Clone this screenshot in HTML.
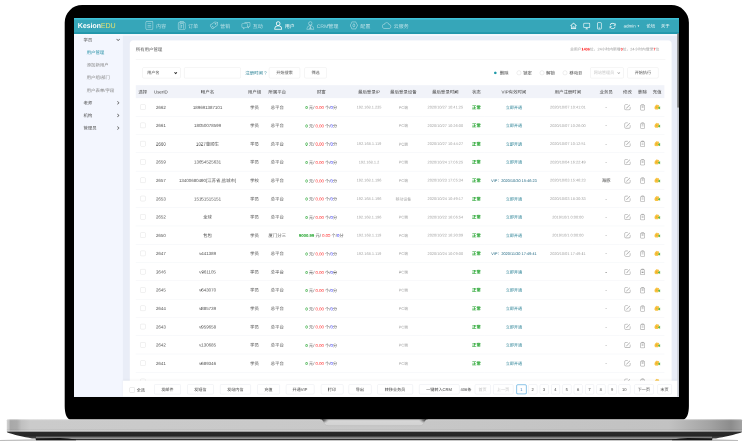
<!DOCTYPE html>
<html lang="zh-CN">
<head>
<meta charset="utf-8">
<title>KesionEDU 用户管理</title>
<style>
html,body{margin:0;padding:0;background:#fff;}
body{width:756px;height:443px;overflow:hidden;position:relative;font-family:"Liberation Sans","Noto Sans CJK SC",sans-serif;}
#laptop{position:absolute;left:0;top:0;width:756px;height:443px;}
#screen{position:absolute;left:73.9px;top:18.2px;width:605.5px;height:378.4px;overflow:hidden;background:#e9edf7;}
#wrap{position:absolute;left:0;top:0;width:1211px;height:756.8px;transform:scale(0.5);transform-origin:0 0;will-change:transform;overflow:hidden;}
#app{text-rendering:geometricPrecision;position:absolute;left:0;top:0;width:1920px;height:1200px;transform:scale(0.63072);transform-origin:0 0;background:#e9edf7;color:#444;font-size:14px;overflow:hidden;}
#hd{position:absolute;left:0;top:0;width:1920px;height:51px;background:#36a6b9;border-top:5.5px solid #3fc2d9;border-bottom:6px solid #2297ab;box-sizing:border-box;}
#logo{position:absolute;left:12px;top:6px;font-size:22.5px;font-weight:bold;color:#fff;letter-spacing:-0.3px;line-height:28px;}
#logo i{font-style:normal;color:#e9e36f;font-weight:normal;}
#nav{position:absolute;left:208.5px;top:-2.5px;height:42px;display:flex;align-items:center;}
#nav .it{display:flex;align-items:center;padding:0 17.8px;color:rgba(255,255,255,.66);font-size:16px;height:42px;}
#nav .it svg{width:27px;height:29px;margin-right:7px;stroke:rgba(255,255,255,.6);fill:none;stroke-width:1.9;}
#nav .it.on{color:#fff;}
#nav .it.on svg{stroke:#fff;stroke-width:2.6;}
#hr{position:absolute;right:0;top:-1px;height:42px;}
#hr svg{position:absolute;top:9px;width:24px;height:24px;stroke:#fff;fill:none;stroke-width:2;}
#hr span{position:absolute;top:12px;color:#fff;font-size:14px;line-height:18px;white-space:nowrap;}
#side{position:absolute;left:0;top:51px;width:155px;height:1149px;background:#f3f6fe;box-sizing:border-box;}
#side div{height:40px;line-height:40px;padding-left:30px;font-size:14px;color:#555;position:relative;margin-top:0;}
#side div.sub{padding-left:40px;color:#888;}
#side div.sub.on{color:#2490a6;}
#side div svg{position:absolute;right:8px;top:13px;width:14px;height:14px;stroke:#555;fill:none;stroke-width:2;}
#side{padding-top:0;}
#side .first{margin-top:-2px;}
#card{position:absolute;left:177px;top:71px;width:1718px;height:1160px;background:#fff;border-radius:10px;}
#title{position:absolute;left:19px;top:17px;font-size:14px;color:#555;line-height:22px;}
#stat{position:absolute;right:39px;top:17px;font-size:12px;color:#999;line-height:22px;}
#stat b{color:#f22;}
#hline{position:absolute;left:19px;right:20px;top:61px;height:1px;background:#e8e8e8;}
.box{position:absolute;top:86px;height:34px;box-sizing:border-box;border:1px solid #e2e2e2;border-radius:4px;background:#fff;font-size:13px;line-height:32px;color:#555;text-align:center;white-space:nowrap;}
.sel{text-align:left;padding-left:14px;}
.sel svg{position:absolute;right:9px;top:11px;width:11px;height:11px;stroke:#222;fill:none;stroke-width:2.6;}
.lbl{position:absolute;top:86px;height:34px;line-height:34px;font-size:14px;color:#444;white-space:nowrap;}
.rad{position:absolute;top:96px;width:14px;height:14px;box-sizing:border-box;border:1px solid #ccc;border-radius:50%;background:#fff;}
.rad.on{border:none;background:#1e9aa8;width:8px;height:8px;top:99px;}
table{position:absolute;left:19px;top:142px;width:1676px;border-collapse:collapse;table-layout:fixed;}
th{height:41px;background:transparent;font-weight:normal;font-size:14px;color:#444;padding:0;text-align:center;white-space:nowrap;}
td{height:57px;border-bottom:1px solid #ebeef4;padding:0;text-align:center;font-size:14px;color:#555;white-space:nowrap;overflow:visible;}
td.s{font-size:12.3px;color:#a4a4a4;}
td.m{font-size:13.5px;}
.g{color:#18a024;}.r{color:#f22;}.b{color:#22f;}
.ok{color:#18a024;font-size:14px;}
.lk{color:#2a8296;font-size:13px;}
.vipd{color:#1d6680;font-size:12.3px;}
.cb{display:inline-block;width:15px;height:15px;border:1px solid #d4d4d4;border-radius:4px;vertical-align:middle;background:#fff;}
.ic{width:24px;height:24px;vertical-align:middle;}
#thbg{position:absolute;left:19px;top:142px;width:1676px;height:41px;background:#f1f3f9;}
#ft{position:absolute;left:155px;top:1150px;width:1759px;height:50px;background:#fff;box-shadow:0 -2px 6px rgba(0,0,0,.05);}
#ft .btn{position:absolute;top:12px;height:31px;box-sizing:border-box;border:1px solid #dde1e8;border-radius:4px;font-size:13px;line-height:29px;color:#444;text-align:center;white-space:nowrap;background:#fff;}
#ft .btn.dis{color:#c4c4c4;}
#ft .btn.cur{border:2px solid #49a3dc;color:#3a7fc0;line-height:27px;}
#ft .t{position:absolute;top:12px;height:31px;line-height:31px;font-size:13px;color:#444;white-space:nowrap;}
#wl{position:absolute;left:0;top:51px;width:1920px;height:4.5px;background:#f9fbff;}
#sb{position:absolute;left:1913px;top:49px;width:7px;height:1151px;background:#c9ccd4;}
#sb i{position:absolute;left:0;top:0;width:7px;height:235px;background:#7b7b7b;}
</style>
</head>
<body>
<svg id="laptop" viewBox="0 0 756 443">
<defs>
<linearGradient id="bh" x1="0" x2="1" y1="0" y2="0">
<stop offset="0" stop-color="#d0d0d0"/><stop offset="0.0025" stop-color="#c6c6c6"/><stop offset="0.005" stop-color="#a8a8a8"/><stop offset="0.014" stop-color="#acacac"/><stop offset="0.02" stop-color="#c0c0c0"/><stop offset="0.032" stop-color="#cbcbcb"/><stop offset="0.5" stop-color="#c8c8c8"/><stop offset="0.9" stop-color="#c2c2c2"/><stop offset="0.955" stop-color="#a4a4a4"/><stop offset="0.985" stop-color="#8c8c8c"/><stop offset="1" stop-color="#a2a2a2"/>
</linearGradient>
<linearGradient id="bv" x1="0" x2="0" y1="0" y2="1">
<stop offset="0" stop-color="#fff" stop-opacity=".45"/><stop offset="0.12" stop-color="#fff" stop-opacity="0"/><stop offset="0.8" stop-color="#000" stop-opacity="0"/><stop offset="0.93" stop-color="#fff" stop-opacity=".25"/><stop offset="1" stop-color="#fff" stop-opacity=".1"/>
</linearGradient>
<linearGradient id="uv" gradientUnits="userSpaceOnUse" x1="0" x2="0" y1="431" y2="438.5">
<stop offset="0" stop-color="#8a8a8a"/><stop offset="0.16" stop-color="#2a2a2a"/><stop offset="0.6" stop-color="#262626"/><stop offset="1" stop-color="#4a4a4a"/>
</linearGradient>
<linearGradient id="uf" gradientUnits="userSpaceOnUse" x1="0" x2="0" y1="435.8" y2="440.6">
<stop offset="0" stop-color="#262626"/><stop offset="0.5" stop-color="#9c9c9c"/><stop offset="0.66" stop-color="#8a8a8a"/><stop offset="0.74" stop-color="#333"/><stop offset="0.9" stop-color="#2c2c2c"/><stop offset="1" stop-color="#aaa"/>
</linearGradient>
<radialGradient id="ns2" cx="0.5" cy="0.5" r="0.5"><stop offset="0" stop-color="#333"/><stop offset="0.45" stop-color="#666" stop-opacity=".75"/><stop offset="1" stop-color="#bbb" stop-opacity="0"/></radialGradient>
<linearGradient id="nv" x1="0" x2="0" y1="0" y2="1">
<stop offset="0" stop-color="#c4c4c4"/><stop offset="0.3" stop-color="#d6d6d6"/><stop offset="1" stop-color="#d2d2d2"/>
</linearGradient>
</defs>
<!-- ground shadow -->
<path d="M0 440 L36 439.300 L36 440.800 L0 441 Z" fill="#aaa" opacity=".8"/>
<path d="M712 439.300 L738 440.100 L738 440.900 L712 441 Z" fill="#aaa" opacity=".8"/>
<!-- underside -->
<path d="M6.800 431 L742 431 L741.500 432.500 C735 434.500 724 437 716 438.400 L712 438.500 L36 438.500 L32 438.400 C24 437 13 434.500 7.300 432.500 Z" fill="url(#uv)"/>
<path d="M36 435.800 L712 435.800 L712 440.600 L36 440.600 Z" fill="url(#uf)"/>
<path d="M35.500 438.300 L60 438.100 C66 438.200 70 439.200 76 439.400 L76 440.300 L36 440.300 Z" fill="#161616"/>
<path d="M712.500 438.300 L688 438.100 C682 438.200 678 439.200 672 439.400 L672 440.300 L712 440.300 Z" fill="#161616"/>
<!-- base -->
<path d="M6.800 420.200 Q6.800 419.200 8 419.200 L740.800 419.200 Q742 419.200 742 420.200 L742 431.600 L6.800 431.600 Z" fill="url(#bh)"/>
<path d="M6.800 420.200 Q6.800 419.200 8 419.200 L740.800 419.200 Q742 419.200 742 420.200 L742 431.600 L6.800 431.600 Z" fill="url(#bv)"/>
<!-- notch -->
<clipPath id="nc"><path d="M320 419.200 C324.500 419.200 323 425.700 328 425.700 L420 425.700 C425 425.700 423.500 419.200 428 419.200 Z"/></clipPath>
<path d="M320 419.200 C324.500 419.200 323 425.700 328 425.700 L420 425.700 C425 425.700 423.500 419.200 428 419.200 Z" fill="url(#nv)" stroke="#b4b4b4" stroke-width=".5"/>
<g clip-path="url(#nc)"><ellipse cx="322.500" cy="419.500" rx="7" ry="4.500" fill="url(#ns2)"/><ellipse cx="425.500" cy="419.500" rx="7" ry="4.500" fill="url(#ns2)"/></g>
<!-- bezel -->
<path d="M82.200 5 L671.400 5 A17.500 17.500 0 0 1 688.900 22.500 L688.900 406 C688.900 413 687 419.200 683.600 419.200 L70 419.200 C66.600 419.200 64.700 413 64.700 406 L64.700 22.500 A17.500 17.500 0 0 1 82.200 5 Z" fill="#000"/>
</svg>
<div id="screen"><div id="wrap"><div id="app">
 <div id="hd">
  <div id="logo">Kesion<i>EDU</i></div>
  <div id="nav">
   <div class="it"><svg viewBox="0 0 28 30"><rect x="2" y="1.500" width="23" height="27" rx="4"/><path d="M7.500 9.500H19.500M7.500 15H19.500M7.500 20.500H19.500"/></svg>内容</div>
   <div class="it"><svg viewBox="0 0 28 30"><rect x="2.500" y="5" width="23" height="23.500" rx="4"/><path d="M8.500 5V2H19.500V5M8.500 9H19.500V26M8.500 9V26M12 16H16M14 13V24"/></svg>订单</div>
   <div class="it"><svg viewBox="0 0 28 30"><path d="M15 3H25V13L13 25.500A2.200 2.200 0 0 1 9.800 25.500L2.800 18.500A2.200 2.200 0 0 1 2.800 15.300Z" transform="rotate(10 14 15)"/><circle cx="19.500" cy="9.500" r="1.800"/><path d="M8 16.500L13 21.500"/></svg>营销</div>
   <div class="it"><svg viewBox="0 0 30 30" style="width:28.5px"><path d="M10 5H26A2.500 2.500 0 0 1 28.500 7.500V16.500A2.500 2.500 0 0 1 26 19H24V23L20 19.500"/><path d="M4 9H17.500A2.500 2.500 0 0 1 20 11.500V19.500A2.500 2.500 0 0 1 17.500 22H11.500L7 26.500V22H4A2.500 2.500 0 0 1 1.500 19.500V11.500A2.500 2.500 0 0 1 4 9Z"/></svg>互动</div>
   <div class="it on"><svg viewBox="0 0 28 30"><circle cx="14" cy="9" r="6"/><path d="M2.500 27.500C2.500 19.500 8 16.500 14 16.500S25.500 19.500 25.500 27.500Z"/></svg>用户</div>
   <div class="it"><svg viewBox="0 0 28 30"><circle cx="14" cy="8.500" r="5.500"/><path d="M2.500 27.500C2.500 19.500 8 16 14 16S25.500 19.500 25.500 27.500ZM14 16V27.500M10 27.500L14 20L18 27.500"/></svg>CRM管理</div>
   <div class="it"><svg viewBox="0 0 28 30"><path d="M8 3.500H20L26 15L20 26.500H8L2 15Z"/><path d="M14 9.500C16.500 11.500 17.500 13 17.500 15S16.500 18.500 14 20.500C11.500 18.500 10.500 17 10.500 15S11.500 11.500 14 9.500Z"/></svg>配置</div>
   <div class="it"><svg viewBox="0 0 32 30" style="width:31px"><path d="M8.500 24.500A6.500 6.500 0 0 1 8 11.500A8.500 8.500 0 0 1 24 12.500A6 6 0 0 1 24 24.500Z"/></svg>云服务</div>
  </div>
  <div id="hr">
   <svg style="right:324px" viewBox="0 0 24 24"><path d="M2.500 12L12 3L21.500 12M5 10V21H19V10M10 21V15H14V21"/></svg>
   <svg style="right:282px" viewBox="0 0 24 24"><rect x="2.500" y="3.500" width="19" height="14" rx="2"/><path d="M8 21.500H16M12 17.500V21.500"/></svg>
   <svg style="right:242px" viewBox="0 0 24 24"><rect x="6" y="2" width="12" height="20" rx="2.500"/><path d="M10 18.500H14"/></svg>
   <svg style="right:200px" viewBox="0 0 24 24"><path d="M4 10A8.300 8.300 0 0 1 20 9.500M20 14A8.300 8.300 0 0 1 4 14.500"/><path d="M20.500 4.500V10H15M3.500 19.500V14H9" /></svg>
   <span style="right:126px">admin <small style="font-size:9px;vertical-align:1px">▼</small></span>
   <span style="right:77px">论坛</span>
   <span style="right:31px">关于</span>
  </div>
 </div>
  <div id="side">
  <div class="first">学员<svg viewBox="0 0 14 14"><path d="M2 4.500L7 9.500L12 4.500"/></svg></div>
  <div class="sub on">用户管理</div>
  <div class="sub">添加新用户</div>
  <div class="sub">用户组/部门</div>
  <div class="sub">用户表单/字段</div>
  <div>老师<svg viewBox="0 0 14 14"><path d="M4.500 2L9.500 7L4.500 12"/></svg></div>
  <div>机构<svg viewBox="0 0 14 14"><path d="M4.500 2L9.500 7L4.500 12"/></svg></div>
  <div>管理员<svg viewBox="0 0 14 14"><path d="M4.500 2L9.500 7L4.500 12"/></svg></div>
 </div>
 <div id="card">
  <div id="title">所有用户管理</div>
  <div id="stat">总用户<b>1406</b>位，24小时内新增<b>0</b>位，24小时内登录<b>7</b>位</div>
  <div id="hline"></div>
  <div class="box sel" style="left:40px;width:121px;">用户名<svg viewBox="0 0 10 10"><path d="M1.500 3L5 6.500L8.500 3"/></svg></div>
  <div class="box" style="left:172px;width:180px;"></div>
  <div class="lbl" style="left:366px;color:#2a8296;">注册时间 ?</div>
  <div class="box" style="left:441px;width:99px;">开始搜索</div>
  <div class="box" style="left:554px;width:70px;">筛选</div>
  <span class="rad on" style="left:1155px"></span><div class="lbl" style="left:1173px">删除</div>
  <span class="rad" style="left:1227px"></span><div class="lbl" style="left:1247px">锁定</div>
  <span class="rad" style="left:1300px"></span><div class="lbl" style="left:1320px">解锁</div>
  <span class="rad" style="left:1373px"></span><div class="lbl" style="left:1394px">移动到</div>
  <div class="box sel" style="left:1460px;width:106px;color:#c8c8c8;padding-left:10px;">网站管理员<svg viewBox="0 0 10 10" style="stroke:#999;stroke-width:1.6"><path d="M1.500 3L5 6.500L8.500 3"/></svg></div>
  <div class="box" style="left:1578px;width:98px;">开始执行</div>
  <div id="thbg"></div>
  <table>
   <colgroup><col style="width:44px"><col style="width:71px"><col style="width:225px"><col style="width:73px"><col style="width:71px"><col style="width:208px"><col style="width:95px"><col style="width:123px"><col style="width:143px"><col style="width:54px"><col style="width:184px"><col style="width:158px"><col style="width:85px"><col style="width:50px"><col style="width:46px"><col style="width:46px"></colgroup>
   <tr><th>选择</th><th>UserID</th><th>用户名</th><th>用户组</th><th>所属平台</th><th>财富</th><th>最后登录IP</th><th>最后登录设备</th><th>最后登录时间</th><th>状态</th><th>VIP有效时间</th><th>用户注册时间</th><th>业务员</th><th>修改</th><th>删除</th><th>充值</th></tr>
<tr><td><span class="cb"></span></td><td>2662</td><td>189691387101</td><td>学员</td><td>总平台</td><td class="m"><b class="g">0</b> 元/ <span class="r">0.00</span> 个/<span class="b">0</span>分</td><td class="s">192.168.1.235</td><td class="s">PC端</td><td class="s">2020/10/27 10:41:25</td><td><b class="ok">正常</b></td><td><span class="lk">立即开通</span></td><td class="s">2020/10/07 10:41:01</td><td>-</td><td><svg class="ic" viewBox="0 0 20 20"><path d="M11 3H5.5A2.5 2.5 0 0 0 3 5.500V14.500A2.500 2.500 0 0 0 5.500 17H14.500A2.500 2.500 0 0 0 17 14.500V9" fill="none" stroke="#999" stroke-width="1.4"/><path d="M7 13L16.500 3.500" stroke="#999" stroke-width="1.5" fill="none"/></svg></td><td><svg class="ic" viewBox="0 0 20 20"><rect x="4.500" y="4.500" width="11" height="13" rx="2" fill="none" stroke="#999" stroke-width="1.4"/><path d="M7.500 4V2.500H12.500V4M7.500 8H12.500M7.500 11H12.500" fill="none" stroke="#999" stroke-width="1.3"/></svg></td><td><svg class="ic" viewBox="0 0 20 20"><path d="M9.500 2.500L12 4.500L14.500 4L15.500 7L14 10L15 13.500L12 16H5.500L3 13L3.500 9L5 6Z" fill="#f8c444"/><path d="M7 7.500L11 8.500L10 12.500L6.500 11.500Z" fill="#f4ad2a"/><path d="M18 7.500V15.500L11.500 11.500Z" fill="#5dbb4f"/></svg></td></tr>
<tr><td><span class="cb"></span></td><td>2661</td><td>18050078599</td><td>学员</td><td>总平台</td><td class="m"><b class="g">0</b> 元/ <span class="r">0.00</span> 个/<span class="b">0</span>分</td><td class="s"></td><td class="s">PC端</td><td class="s">2020/10/27 10:26:00</td><td><b class="ok">正常</b></td><td><span class="lk">立即开通</span></td><td class="s">2020/10/07 10:26:00</td><td>-</td><td><svg class="ic" viewBox="0 0 20 20"><path d="M11 3H5.5A2.5 2.5 0 0 0 3 5.500V14.500A2.500 2.500 0 0 0 5.500 17H14.500A2.500 2.500 0 0 0 17 14.500V9" fill="none" stroke="#999" stroke-width="1.4"/><path d="M7 13L16.500 3.500" stroke="#999" stroke-width="1.5" fill="none"/></svg></td><td><svg class="ic" viewBox="0 0 20 20"><rect x="4.500" y="4.500" width="11" height="13" rx="2" fill="none" stroke="#999" stroke-width="1.4"/><path d="M7.500 4V2.500H12.500V4M7.500 8H12.500M7.500 11H12.500" fill="none" stroke="#999" stroke-width="1.3"/></svg></td><td><svg class="ic" viewBox="0 0 20 20"><path d="M9.500 2.500L12 4.500L14.500 4L15.500 7L14 10L15 13.500L12 16H5.500L3 13L3.500 9L5 6Z" fill="#f8c444"/><path d="M7 7.500L11 8.500L10 12.500L6.500 11.500Z" fill="#f4ad2a"/><path d="M18 7.500V15.500L11.500 11.500Z" fill="#5dbb4f"/></svg></td></tr>
<tr><td><span class="cb"></span></td><td>2660</td><td>1027董顺生</td><td>学员</td><td>总平台</td><td class="m"><b class="g">0</b> 元/ <span class="r">0.00</span> 个/<span class="b">0</span>分</td><td class="s">192.168.1.119</td><td class="s">PC端</td><td class="s">2020/10/27 10:44:27</td><td><b class="ok">正常</b></td><td><span class="lk">立即开通</span></td><td class="s">2020/10/07 10:12:51</td><td>-</td><td><svg class="ic" viewBox="0 0 20 20"><path d="M11 3H5.5A2.5 2.5 0 0 0 3 5.500V14.500A2.500 2.500 0 0 0 5.500 17H14.500A2.500 2.500 0 0 0 17 14.500V9" fill="none" stroke="#999" stroke-width="1.4"/><path d="M7 13L16.500 3.500" stroke="#999" stroke-width="1.5" fill="none"/></svg></td><td><svg class="ic" viewBox="0 0 20 20"><rect x="4.500" y="4.500" width="11" height="13" rx="2" fill="none" stroke="#999" stroke-width="1.4"/><path d="M7.500 4V2.500H12.500V4M7.500 8H12.500M7.500 11H12.500" fill="none" stroke="#999" stroke-width="1.3"/></svg></td><td><svg class="ic" viewBox="0 0 20 20"><path d="M9.500 2.500L12 4.500L14.500 4L15.500 7L14 10L15 13.500L12 16H5.500L3 13L3.500 9L5 6Z" fill="#f8c444"/><path d="M7 7.500L11 8.500L10 12.500L6.500 11.500Z" fill="#f4ad2a"/><path d="M18 7.500V15.500L11.500 11.500Z" fill="#5dbb4f"/></svg></td></tr>
<tr><td><span class="cb"></span></td><td>2659</td><td>13654525631</td><td>学员</td><td>总平台</td><td class="m"><b class="g">0</b> 元/ <span class="r">0.00</span> 个/<span class="b">0</span>分</td><td class="s">192.168.1.2</td><td class="s">PC端</td><td class="s">2020/10/24 17:06:25</td><td><b class="ok">正常</b></td><td><span class="lk">立即开通</span></td><td class="s">2020/10/04 16:22:49</td><td>-</td><td><svg class="ic" viewBox="0 0 20 20"><path d="M11 3H5.5A2.5 2.5 0 0 0 3 5.500V14.500A2.500 2.500 0 0 0 5.500 17H14.500A2.500 2.500 0 0 0 17 14.500V9" fill="none" stroke="#999" stroke-width="1.4"/><path d="M7 13L16.500 3.500" stroke="#999" stroke-width="1.5" fill="none"/></svg></td><td><svg class="ic" viewBox="0 0 20 20"><rect x="4.500" y="4.500" width="11" height="13" rx="2" fill="none" stroke="#999" stroke-width="1.4"/><path d="M7.500 4V2.500H12.500V4M7.500 8H12.500M7.500 11H12.500" fill="none" stroke="#999" stroke-width="1.3"/></svg></td><td><svg class="ic" viewBox="0 0 20 20"><path d="M9.500 2.500L12 4.500L14.500 4L15.500 7L14 10L15 13.500L12 16H5.500L3 13L3.500 9L5 6Z" fill="#f8c444"/><path d="M7 7.500L11 8.500L10 12.500L6.500 11.500Z" fill="#f4ad2a"/><path d="M18 7.500V15.500L11.500 11.500Z" fill="#5dbb4f"/></svg></td></tr>
<tr><td><span class="cb"></span></td><td>2657</td><td>13400680490[江苏省,盐城市]</td><td>学校</td><td>总平台</td><td class="m"><b class="g">0</b> 元/ <span class="r">0.00</span> 个/<span class="b">0</span>分</td><td class="s">192.168.1.196</td><td class="s">PC端</td><td class="s">2020/10/23 17:05:34</td><td><b class="ok">正常</b></td><td><span class="vipd">VIP：2020/10/30 15:46:23</span></td><td class="s">2020/10/03 15:46:23</td><td>海豚</td><td><svg class="ic" viewBox="0 0 20 20"><path d="M11 3H5.5A2.5 2.5 0 0 0 3 5.500V14.500A2.500 2.500 0 0 0 5.500 17H14.500A2.500 2.500 0 0 0 17 14.500V9" fill="none" stroke="#999" stroke-width="1.4"/><path d="M7 13L16.500 3.500" stroke="#999" stroke-width="1.5" fill="none"/></svg></td><td><svg class="ic" viewBox="0 0 20 20"><rect x="4.500" y="4.500" width="11" height="13" rx="2" fill="none" stroke="#999" stroke-width="1.4"/><path d="M7.500 4V2.500H12.500V4M7.500 8H12.500M7.500 11H12.500" fill="none" stroke="#999" stroke-width="1.3"/></svg></td><td><svg class="ic" viewBox="0 0 20 20"><path d="M9.500 2.500L12 4.500L14.500 4L15.500 7L14 10L15 13.500L12 16H5.500L3 13L3.500 9L5 6Z" fill="#f8c444"/><path d="M7 7.500L11 8.500L10 12.500L6.500 11.500Z" fill="#f4ad2a"/><path d="M18 7.500V15.500L11.500 11.500Z" fill="#5dbb4f"/></svg></td></tr>
<tr><td><span class="cb"></span></td><td>2653</td><td>15151515151</td><td>学员</td><td>总平台</td><td class="m"><b class="g">0</b> 元/ <span class="r">0.00</span> 个/<span class="b">0</span>分</td><td class="s">192.168.1.196</td><td class="s">移动设备</td><td class="s">2020/10/24 10:49:17</td><td><b class="ok">正常</b></td><td><span class="lk">立即开通</span></td><td class="s">2020/10/03 18:30:33</td><td>-</td><td><svg class="ic" viewBox="0 0 20 20"><path d="M11 3H5.5A2.5 2.5 0 0 0 3 5.500V14.500A2.500 2.500 0 0 0 5.500 17H14.500A2.500 2.500 0 0 0 17 14.500V9" fill="none" stroke="#999" stroke-width="1.4"/><path d="M7 13L16.500 3.500" stroke="#999" stroke-width="1.5" fill="none"/></svg></td><td><svg class="ic" viewBox="0 0 20 20"><rect x="4.500" y="4.500" width="11" height="13" rx="2" fill="none" stroke="#999" stroke-width="1.4"/><path d="M7.500 4V2.500H12.500V4M7.500 8H12.500M7.500 11H12.500" fill="none" stroke="#999" stroke-width="1.3"/></svg></td><td><svg class="ic" viewBox="0 0 20 20"><path d="M9.500 2.500L12 4.500L14.500 4L15.500 7L14 10L15 13.500L12 16H5.500L3 13L3.500 9L5 6Z" fill="#f8c444"/><path d="M7 7.500L11 8.500L10 12.500L6.500 11.500Z" fill="#f4ad2a"/><path d="M18 7.500V15.500L11.500 11.500Z" fill="#5dbb4f"/></svg></td></tr>
<tr><td><span class="cb"></span></td><td>2652</td><td>全球</td><td>学员</td><td>总平台</td><td class="m"><b class="g">0</b> 元/ <span class="r">0.00</span> 个/<span class="b">0</span>分</td><td class="s">192.168.1.196</td><td class="s">PC端</td><td class="s">2020/10/22 16:06:54</td><td><b class="ok">正常</b></td><td><span class="lk">立即开通</span></td><td class="s">2019/10/1 0:00:00</td><td>-</td><td><svg class="ic" viewBox="0 0 20 20"><path d="M11 3H5.5A2.5 2.5 0 0 0 3 5.500V14.500A2.500 2.500 0 0 0 5.500 17H14.500A2.500 2.500 0 0 0 17 14.500V9" fill="none" stroke="#999" stroke-width="1.4"/><path d="M7 13L16.500 3.500" stroke="#999" stroke-width="1.5" fill="none"/></svg></td><td><svg class="ic" viewBox="0 0 20 20"><rect x="4.500" y="4.500" width="11" height="13" rx="2" fill="none" stroke="#999" stroke-width="1.4"/><path d="M7.500 4V2.500H12.500V4M7.500 8H12.500M7.500 11H12.500" fill="none" stroke="#999" stroke-width="1.3"/></svg></td><td><svg class="ic" viewBox="0 0 20 20"><path d="M9.500 2.500L12 4.500L14.500 4L15.500 7L14 10L15 13.500L12 16H5.500L3 13L3.500 9L5 6Z" fill="#f8c444"/><path d="M7 7.500L11 8.500L10 12.500L6.500 11.500Z" fill="#f4ad2a"/><path d="M18 7.500V15.500L11.500 11.500Z" fill="#5dbb4f"/></svg></td></tr>
<tr><td><span class="cb"></span></td><td>2650</td><td>包包</td><td>学员</td><td>厦门分三</td><td class="m"><b class="g">9000.99</b> 元/ <span class="r">0.00</span> 个/<span class="b">0</span>分</td><td class="s">192.168.1.119</td><td class="s">PC端</td><td class="s">2020/10/22 16:20:09</td><td><b class="ok">正常</b></td><td><span class="lk">立即开通</span></td><td class="s">2019/10/1 0:00:00</td><td>-</td><td><svg class="ic" viewBox="0 0 20 20"><path d="M11 3H5.5A2.5 2.5 0 0 0 3 5.500V14.500A2.500 2.500 0 0 0 5.500 17H14.500A2.500 2.500 0 0 0 17 14.500V9" fill="none" stroke="#999" stroke-width="1.4"/><path d="M7 13L16.500 3.500" stroke="#999" stroke-width="1.5" fill="none"/></svg></td><td><svg class="ic" viewBox="0 0 20 20"><rect x="4.500" y="4.500" width="11" height="13" rx="2" fill="none" stroke="#999" stroke-width="1.4"/><path d="M7.500 4V2.500H12.500V4M7.500 8H12.500M7.500 11H12.500" fill="none" stroke="#999" stroke-width="1.3"/></svg></td><td><svg class="ic" viewBox="0 0 20 20"><path d="M9.500 2.500L12 4.500L14.500 4L15.500 7L14 10L15 13.500L12 16H5.500L3 13L3.500 9L5 6Z" fill="#f8c444"/><path d="M7 7.500L11 8.500L10 12.500L6.500 11.500Z" fill="#f4ad2a"/><path d="M18 7.500V15.500L11.500 11.500Z" fill="#5dbb4f"/></svg></td></tr>
<tr><td><span class="cb"></span></td><td>2647</td><td>v441389</td><td>学员</td><td>总平台</td><td class="m"><b class="g">0</b> 元/ <span class="r">0.00</span> 个/<span class="b">0</span>分</td><td class="s">192.168.1.119</td><td class="s">PC端</td><td class="s">2020/10/24 10:09:00</td><td><b class="ok">正常</b></td><td><span class="vipd">VIP：2020/11/30 17:49:41</span></td><td class="s">2020/10/01 17:49:41</td><td>-</td><td><svg class="ic" viewBox="0 0 20 20"><path d="M11 3H5.5A2.5 2.5 0 0 0 3 5.500V14.500A2.500 2.500 0 0 0 5.500 17H14.500A2.500 2.500 0 0 0 17 14.500V9" fill="none" stroke="#999" stroke-width="1.4"/><path d="M7 13L16.500 3.500" stroke="#999" stroke-width="1.5" fill="none"/></svg></td><td><svg class="ic" viewBox="0 0 20 20"><rect x="4.500" y="4.500" width="11" height="13" rx="2" fill="none" stroke="#999" stroke-width="1.4"/><path d="M7.500 4V2.500H12.500V4M7.500 8H12.500M7.500 11H12.500" fill="none" stroke="#999" stroke-width="1.3"/></svg></td><td><svg class="ic" viewBox="0 0 20 20"><path d="M9.500 2.500L12 4.500L14.500 4L15.500 7L14 10L15 13.500L12 16H5.500L3 13L3.500 9L5 6Z" fill="#f8c444"/><path d="M7 7.500L11 8.500L10 12.500L6.500 11.500Z" fill="#f4ad2a"/><path d="M18 7.500V15.500L11.500 11.500Z" fill="#5dbb4f"/></svg></td></tr>
<tr><td><span class="cb"></span></td><td>2646</td><td>v961105</td><td>学员</td><td>总平台</td><td class="m"><b class="g">0</b> 元/ <span class="r">0.00</span> 个/<span class="b">0</span>分</td><td class="s"></td><td class="s">PC端</td><td class="s"></td><td><b class="ok">正常</b></td><td><span class="lk">立即开通</span></td><td class="s"></td><td>-</td><td><svg class="ic" viewBox="0 0 20 20"><path d="M11 3H5.5A2.5 2.5 0 0 0 3 5.500V14.500A2.500 2.500 0 0 0 5.500 17H14.500A2.500 2.500 0 0 0 17 14.500V9" fill="none" stroke="#999" stroke-width="1.4"/><path d="M7 13L16.500 3.500" stroke="#999" stroke-width="1.5" fill="none"/></svg></td><td><svg class="ic" viewBox="0 0 20 20"><rect x="4.500" y="4.500" width="11" height="13" rx="2" fill="none" stroke="#999" stroke-width="1.4"/><path d="M7.500 4V2.500H12.500V4M7.500 8H12.500M7.500 11H12.500" fill="none" stroke="#999" stroke-width="1.3"/></svg></td><td><svg class="ic" viewBox="0 0 20 20"><path d="M9.500 2.500L12 4.500L14.500 4L15.500 7L14 10L15 13.500L12 16H5.500L3 13L3.500 9L5 6Z" fill="#f8c444"/><path d="M7 7.500L11 8.500L10 12.500L6.500 11.500Z" fill="#f4ad2a"/><path d="M18 7.500V15.500L11.500 11.500Z" fill="#5dbb4f"/></svg></td></tr>
<tr><td><span class="cb"></span></td><td>2645</td><td>v643070</td><td>学员</td><td>总平台</td><td class="m"><b class="g">0</b> 元/ <span class="r">0.00</span> 个/<span class="b">0</span>分</td><td class="s"></td><td class="s">PC端</td><td class="s"></td><td><b class="ok">正常</b></td><td><span class="lk">立即开通</span></td><td class="s"></td><td>-</td><td><svg class="ic" viewBox="0 0 20 20"><path d="M11 3H5.5A2.5 2.5 0 0 0 3 5.500V14.500A2.500 2.500 0 0 0 5.500 17H14.500A2.500 2.500 0 0 0 17 14.500V9" fill="none" stroke="#999" stroke-width="1.4"/><path d="M7 13L16.500 3.500" stroke="#999" stroke-width="1.5" fill="none"/></svg></td><td><svg class="ic" viewBox="0 0 20 20"><rect x="4.500" y="4.500" width="11" height="13" rx="2" fill="none" stroke="#999" stroke-width="1.4"/><path d="M7.500 4V2.500H12.500V4M7.500 8H12.500M7.500 11H12.500" fill="none" stroke="#999" stroke-width="1.3"/></svg></td><td><svg class="ic" viewBox="0 0 20 20"><path d="M9.500 2.500L12 4.500L14.500 4L15.500 7L14 10L15 13.500L12 16H5.500L3 13L3.500 9L5 6Z" fill="#f8c444"/><path d="M7 7.500L11 8.500L10 12.500L6.500 11.500Z" fill="#f4ad2a"/><path d="M18 7.500V15.500L11.500 11.500Z" fill="#5dbb4f"/></svg></td></tr>
<tr><td><span class="cb"></span></td><td>2644</td><td>v885739</td><td>学员</td><td>总平台</td><td class="m"><b class="g">0</b> 元/ <span class="r">0.00</span> 个/<span class="b">0</span>分</td><td class="s"></td><td class="s">PC端</td><td class="s"></td><td><b class="ok">正常</b></td><td><span class="lk">立即开通</span></td><td class="s"></td><td>-</td><td><svg class="ic" viewBox="0 0 20 20"><path d="M11 3H5.5A2.5 2.5 0 0 0 3 5.500V14.500A2.500 2.500 0 0 0 5.500 17H14.500A2.500 2.500 0 0 0 17 14.500V9" fill="none" stroke="#999" stroke-width="1.4"/><path d="M7 13L16.500 3.500" stroke="#999" stroke-width="1.5" fill="none"/></svg></td><td><svg class="ic" viewBox="0 0 20 20"><rect x="4.500" y="4.500" width="11" height="13" rx="2" fill="none" stroke="#999" stroke-width="1.4"/><path d="M7.500 4V2.500H12.500V4M7.500 8H12.500M7.500 11H12.500" fill="none" stroke="#999" stroke-width="1.3"/></svg></td><td><svg class="ic" viewBox="0 0 20 20"><path d="M9.500 2.500L12 4.500L14.500 4L15.500 7L14 10L15 13.500L12 16H5.500L3 13L3.500 9L5 6Z" fill="#f8c444"/><path d="M7 7.500L11 8.500L10 12.500L6.500 11.500Z" fill="#f4ad2a"/><path d="M18 7.500V15.500L11.500 11.500Z" fill="#5dbb4f"/></svg></td></tr>
<tr><td><span class="cb"></span></td><td>2643</td><td>v959658</td><td>学员</td><td>总平台</td><td class="m"><b class="g">0</b> 元/ <span class="r">0.00</span> 个/<span class="b">0</span>分</td><td class="s"></td><td class="s">PC端</td><td class="s"></td><td><b class="ok">正常</b></td><td><span class="lk">立即开通</span></td><td class="s"></td><td>-</td><td><svg class="ic" viewBox="0 0 20 20"><path d="M11 3H5.5A2.5 2.5 0 0 0 3 5.500V14.500A2.500 2.500 0 0 0 5.500 17H14.500A2.500 2.500 0 0 0 17 14.500V9" fill="none" stroke="#999" stroke-width="1.4"/><path d="M7 13L16.500 3.500" stroke="#999" stroke-width="1.5" fill="none"/></svg></td><td><svg class="ic" viewBox="0 0 20 20"><rect x="4.500" y="4.500" width="11" height="13" rx="2" fill="none" stroke="#999" stroke-width="1.4"/><path d="M7.500 4V2.500H12.500V4M7.500 8H12.500M7.500 11H12.500" fill="none" stroke="#999" stroke-width="1.3"/></svg></td><td><svg class="ic" viewBox="0 0 20 20"><path d="M9.500 2.500L12 4.500L14.500 4L15.500 7L14 10L15 13.500L12 16H5.500L3 13L3.500 9L5 6Z" fill="#f8c444"/><path d="M7 7.500L11 8.500L10 12.500L6.500 11.500Z" fill="#f4ad2a"/><path d="M18 7.500V15.500L11.500 11.500Z" fill="#5dbb4f"/></svg></td></tr>
<tr><td><span class="cb"></span></td><td>2642</td><td>v130685</td><td>学员</td><td>总平台</td><td class="m"><b class="g">0</b> 元/ <span class="r">0.00</span> 个/<span class="b">0</span>分</td><td class="s"></td><td class="s">PC端</td><td class="s"></td><td><b class="ok">正常</b></td><td><span class="lk">立即开通</span></td><td class="s"></td><td>-</td><td><svg class="ic" viewBox="0 0 20 20"><path d="M11 3H5.5A2.5 2.5 0 0 0 3 5.500V14.500A2.500 2.500 0 0 0 5.500 17H14.500A2.500 2.500 0 0 0 17 14.500V9" fill="none" stroke="#999" stroke-width="1.4"/><path d="M7 13L16.500 3.500" stroke="#999" stroke-width="1.5" fill="none"/></svg></td><td><svg class="ic" viewBox="0 0 20 20"><rect x="4.500" y="4.500" width="11" height="13" rx="2" fill="none" stroke="#999" stroke-width="1.4"/><path d="M7.500 4V2.500H12.500V4M7.500 8H12.500M7.500 11H12.500" fill="none" stroke="#999" stroke-width="1.3"/></svg></td><td><svg class="ic" viewBox="0 0 20 20"><path d="M9.500 2.500L12 4.500L14.500 4L15.500 7L14 10L15 13.500L12 16H5.500L3 13L3.500 9L5 6Z" fill="#f8c444"/><path d="M7 7.500L11 8.500L10 12.500L6.500 11.500Z" fill="#f4ad2a"/><path d="M18 7.500V15.500L11.500 11.500Z" fill="#5dbb4f"/></svg></td></tr>
<tr><td><span class="cb"></span></td><td>2641</td><td>v689346</td><td>学员</td><td>总平台</td><td class="m"><b class="g">0</b> 元/ <span class="r">0.00</span> 个/<span class="b">0</span>分</td><td class="s"></td><td class="s">PC端</td><td class="s"></td><td><b class="ok">正常</b></td><td><span class="lk">立即开通</span></td><td class="s"></td><td>-</td><td><svg class="ic" viewBox="0 0 20 20"><path d="M11 3H5.5A2.5 2.5 0 0 0 3 5.500V14.500A2.500 2.500 0 0 0 5.500 17H14.500A2.500 2.500 0 0 0 17 14.500V9" fill="none" stroke="#999" stroke-width="1.4"/><path d="M7 13L16.500 3.500" stroke="#999" stroke-width="1.5" fill="none"/></svg></td><td><svg class="ic" viewBox="0 0 20 20"><rect x="4.500" y="4.500" width="11" height="13" rx="2" fill="none" stroke="#999" stroke-width="1.4"/><path d="M7.500 4V2.500H12.500V4M7.500 8H12.500M7.500 11H12.500" fill="none" stroke="#999" stroke-width="1.3"/></svg></td><td><svg class="ic" viewBox="0 0 20 20"><path d="M9.500 2.500L12 4.500L14.500 4L15.500 7L14 10L15 13.500L12 16H5.500L3 13L3.500 9L5 6Z" fill="#f8c444"/><path d="M7 7.500L11 8.500L10 12.500L6.500 11.500Z" fill="#f4ad2a"/><path d="M18 7.500V15.500L11.500 11.500Z" fill="#5dbb4f"/></svg></td></tr>
<tr><td><span class="cb"></span></td><td></td><td></td><td></td><td></td><td></td><td></td><td></td><td></td><td></td><td></td><td></td><td></td><td><svg class="ic" viewBox="0 0 20 20"><path d="M11 3H5.5A2.5 2.5 0 0 0 3 5.500V14.500A2.500 2.500 0 0 0 5.500 17H14.500A2.500 2.500 0 0 0 17 14.500V9" fill="none" stroke="#999" stroke-width="1.4"/><path d="M7 13L16.500 3.500" stroke="#999" stroke-width="1.5" fill="none"/></svg></td><td><svg class="ic" viewBox="0 0 20 20"><rect x="4.500" y="4.500" width="11" height="13" rx="2" fill="none" stroke="#999" stroke-width="1.4"/><path d="M7.500 4V2.500H12.500V4M7.500 8H12.500M7.500 11H12.500" fill="none" stroke="#999" stroke-width="1.3"/></svg></td><td><svg class="ic" viewBox="0 0 20 20"><path d="M9.500 2.500L12 4.500L14.500 4L15.500 7L14 10L15 13.500L12 16H5.500L3 13L3.500 9L5 6Z" fill="#f8c444"/><path d="M7 7.500L11 8.500L10 12.500L6.500 11.500Z" fill="#f4ad2a"/><path d="M18 7.500V15.500L11.500 11.500Z" fill="#5dbb4f"/></svg></td></tr>
  </table>
 </div>
 <div id="wl"></div>
 <div id="ft">
  <span class="cb" style="position:absolute;left:21px;top:21px;border-color:#c4c4c4;"></span>
  <div class="t" style="left:44px;top:13.5px;">全选</div>
  <div class="btn" style="left:98.5px;width:85px;">发邮件</div>
  <div class="btn" style="left:203.5px;width:84px;">发短信</div>
  <div class="btn" style="left:307.5px;width:98px;">发站内信</div>
  <div class="btn" style="left:425.5px;width:72px;">充值</div>
  <div class="btn" style="left:516.5px;width:90px;">开通VIP</div>
  <div class="btn" style="left:627.5px;width:71px;">打印</div>
  <div class="btn" style="left:715.5px;width:72px;">导出</div>
  <div class="btn" style="left:806.5px;width:113px;">转移业务员</div>
  <div class="btn" style="left:938.5px;width:128px;">一键转入CRM</div>
  <div class="t" style="left:1070.5px;">406条</div>
  <div class="btn dis" style="left:1115.5px;width:50px;">首页</div>
  <div class="btn dis" style="left:1173.5px;width:64px;">上一页</div>
  <div class="btn cur" style="left:1247.5px;width:32px;">1</div>
  <div class="btn" style="left:1285.5px;width:28px;">2</div>
  <div class="btn" style="left:1321.5px;width:28px;">3</div>
  <div class="btn" style="left:1357.5px;width:28px;">4</div>
  <div class="btn" style="left:1393.5px;width:28px;">5</div>
  <div class="btn" style="left:1429.5px;width:28px;">6</div>
  <div class="btn" style="left:1465.5px;width:28px;">7</div>
  <div class="btn" style="left:1501.5px;width:28px;">8</div>
  <div class="btn" style="left:1537.5px;width:28px;">9</div>
  <div class="btn" style="left:1571.5px;width:37px;">10</div>
  <div class="btn" style="left:1621.5px;width:61px;">下一页</div>
  <div class="btn" style="left:1694.5px;width:46px;">末页</div>
 </div>
 <div id="sb"><i></i></div>
</div></div></div>
</body>
</html>
